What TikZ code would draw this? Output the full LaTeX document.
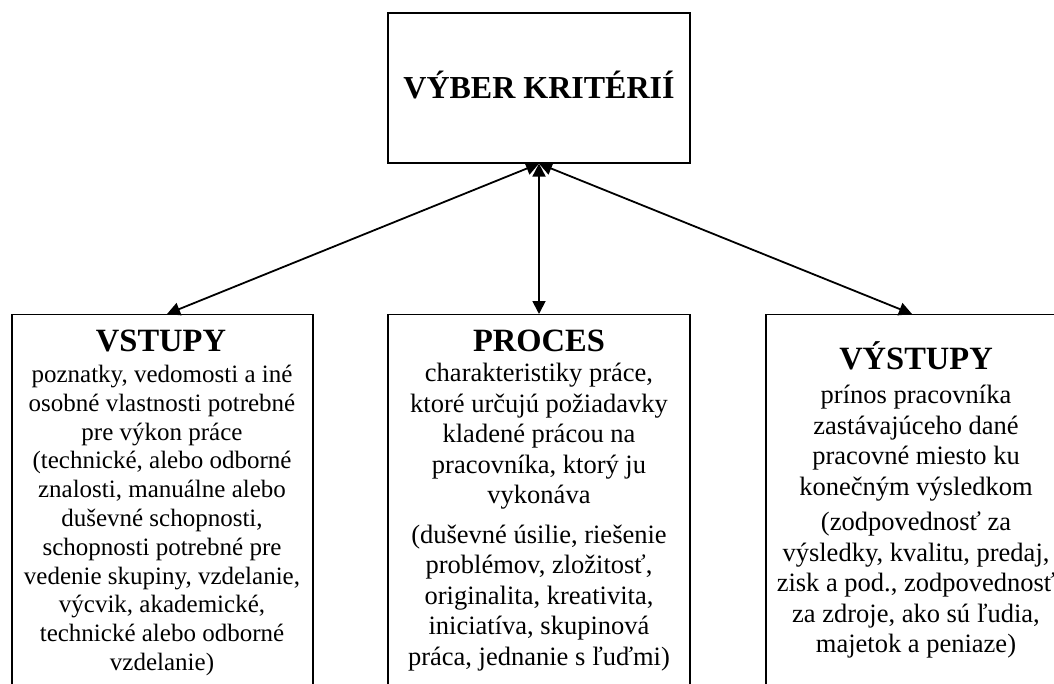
\documentclass[tikz,border=0pt]{standalone}
\usepackage{fontspec}
\setmainfont{Liberation Serif}
\usetikzlibrary{arrows.meta}
\begin{document}
\begin{tikzpicture}[x=1pt,y=-1pt,
  box/.style={draw, line width=1.2pt, inner sep=0pt},
  head/.style={font=\fontsize{32.5}{36}\selectfont\bfseries, anchor=base, inner sep=0pt},
  bodyS/.style={font=\fontsize{25}{28.8}\selectfont, align=center, anchor=north, inner sep=0pt},
  bodyL/.style={font=\fontsize{26.5}{30.5}\selectfont, align=center, anchor=north, inner sep=0pt},
  link/.style={{Triangle[length=13pt,width=13pt]}-{Triangle[length=13pt,width=13pt]}, line width=1.8pt}]
\useasboundingbox (0,0) rectangle (1054,683);
\clip (0,0) rectangle (1054,683);
% top box
\node[box, minimum width=302pt, minimum height=150pt, text height=21pt, text depth=0pt,
  font=\fontsize{32}{36}\selectfont\bfseries] (top) at (539,88) {VÝBER KRITÉRIÍ};
% bottom boxes
\node[box, anchor=north, minimum width=301pt, minimum height=420pt] (vstupy) at (162.5,314) {};
\node[box, anchor=north, minimum width=302pt, minimum height=420pt] (proces) at (539,314) {};
\node[box, anchor=north, minimum width=302pt, minimum height=420pt] (vystupy) at (917,314) {};
% headings
\node[head] (vstupyH) at (161,351) {VSTUPY};
\node[head] (procesH) at (539,351) {PROCES};
\node[head] (vystupyH) at (916,369) {VÝSTUPY};
% body texts
\node[bodyS] (vstupyT) at (162,365) {poznatky, vedomosti a iné\\osobné vlastnosti potrebné\\pre výkon práce\\(technické, alebo odborné\\znalosti, manuálne alebo\\duševné schopnosti,\\schopnosti potrebné pre\\vedenie skupiny, vzdelanie,\\výcvik, akademické,\\technické alebo odborné\\vzdelanie)};
\node[bodyL] (procesT) at (539,363) {charakteristiky práce,\\ktoré určujú požiadavky\\kladené prácou na\\pracovníka, ktorý ju\\vykonáva\\[9pt](duševné úsilie, riešenie\\problémov, zložitosť,\\originalita, kreativita,\\iniciatíva, skupinová\\práca, jednanie s ľuďmi)};
\node[bodyL] (vystupyT) at (916,385) {prínos pracovníka\\zastávajúceho dané\\pracovné miesto ku\\konečným výsledkom\\[5pt](zodpovednosť za\\výsledky, kvalitu, predaj,\\zisk a pod., zodpovednosť\\za zdroje, ako sú ľudia,\\majetok a peniaze)};
% connectors
\draw[link] (top.south) -- ([xshift=4.5pt]vstupy.north);
\draw[link] (top.south) -- (proces.north);
\draw[link] (top.south) -- ([xshift=-5pt]vystupy.north);
\end{tikzpicture}
\end{document}
